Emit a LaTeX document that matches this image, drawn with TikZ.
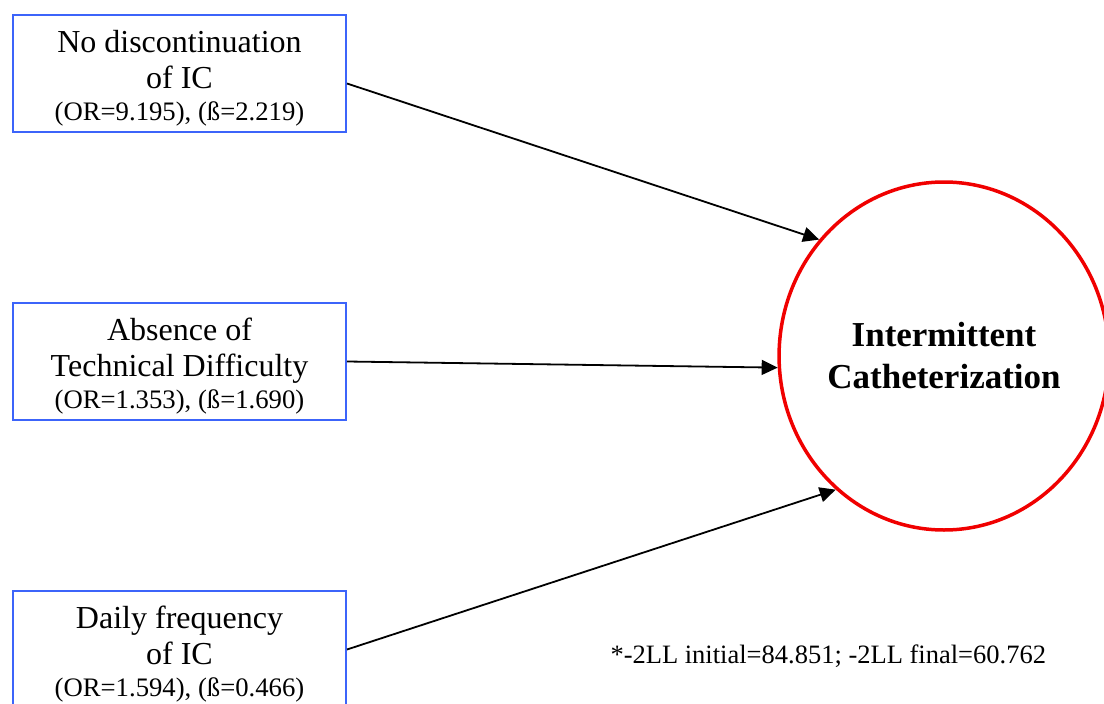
\documentclass[tikz,border=0pt]{standalone}
\usepackage{fontspec}
\setmainfont{Liberation Serif}
\usetikzlibrary{arrows.meta,shapes.geometric}
\definecolor{boxblue}{RGB}{60,100,250}
\definecolor{ringred}{RGB}{240,0,0}

\begin{document}
\begin{tikzpicture}
  [x=1pt,y=-1pt,
   factor/.style={draw=boxblue,line width=2pt,minimum width=333pt,minimum height=117pt,inner sep=0pt,align=center,font=\fontsize{32}{36}\selectfont},
   outcome/.style={ellipse,draw=ringred,line width=3.5pt,minimum width=328pt,minimum height=348pt,inner sep=0pt,align=center,font=\fontsize{35}{42}\selectfont\bfseries},
   link/.style={-{Triangle[length=16pt,width=15pt]},line width=1.8pt}]
  \clip (0,0) rectangle (1104,704);
  \node[factor] (nodisc) at (179.5,73.5) {\rule{0pt}{31pt}No discontinuation\\of IC\\[-4pt]{\fontsize{26.7}{30}\selectfont (OR=9.195), (ß=2.219)}};
  \node[factor] (absence) at (179.5,361.5) {\rule{0pt}{31pt}Absence of\\Technical Difficulty\\[-4pt]{\fontsize{26.7}{30}\selectfont (OR=1.353), (ß=1.690)}};
  \node[factor] (daily) at (179.5,649.5) {\rule{0pt}{31pt}Daily frequency\\of IC\\[-4pt]{\fontsize{26.7}{30}\selectfont (OR=1.594), (ß=0.466)}};
  \node[outcome] (cath) at (944,356) {Intermittent\\Catheterization};
  \node[anchor=base west,font=\fontsize{26.5}{30}\selectfont] (note) at (607,663) {*-2LL initial=84.851; -2LL final=60.762};

  \coordinate (nodiscout) at ([yshift=-10pt]nodisc.east);
  \foreach \from/\to in {nodiscout/cath.137.4,absence.east/cath.184.8,daily.east/cath.231.2}
    \draw[link] (\from) -- (\to);

\end{tikzpicture}
\end{document}
